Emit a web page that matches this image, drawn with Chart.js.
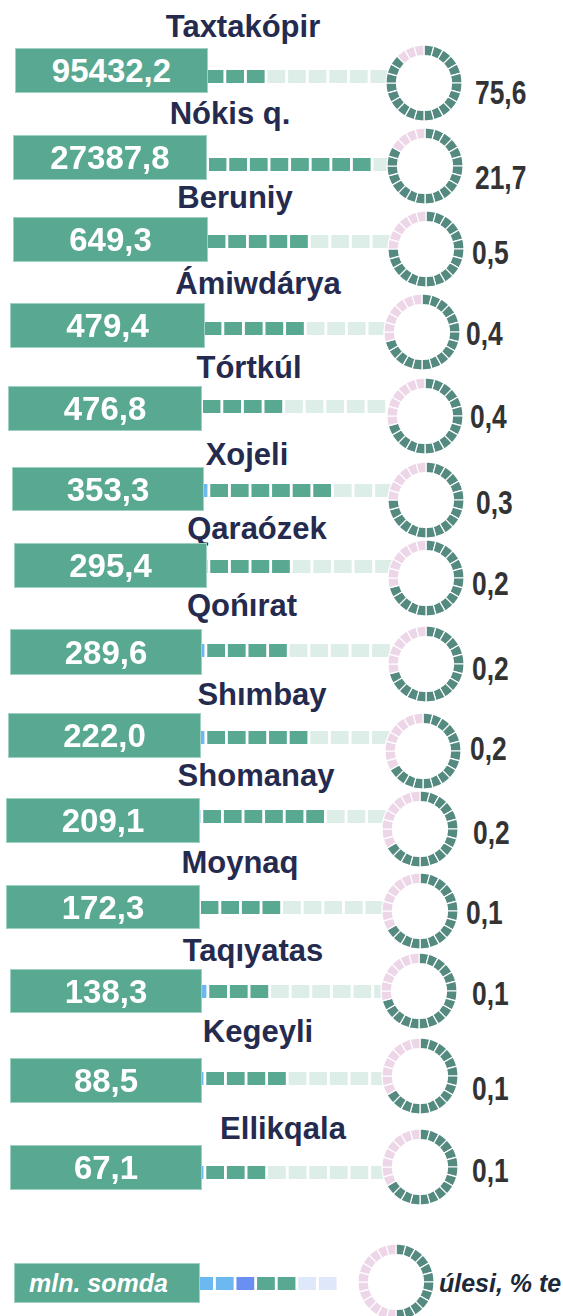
<!DOCTYPE html>
<html>
<head>
<meta charset="utf-8">
<script src="https://cdn.jsdelivr.net/npm/chart.js@4.4.0/dist/chart.umd.min.js"></script>
<style>
  body { margin: 0; background: #fff; }
  #board { position: relative; width: 563px; height: 1316px; overflow: hidden; font-family: 'Liberation Sans', Arial, sans-serif; }
  #board canvas { position: absolute; }
  .dash { z-index: 1; }
  .ring { z-index: 3; }
  .name { position: absolute; transform: translate(-50%, -50%); font-weight: bold; font-size: 31px; line-height: 1; color: #252a4f; white-space: nowrap; }
  .box { position: absolute; z-index: 2; box-sizing: border-box; background: #59a891; border: 1px solid #9fd2c2;
         display: flex; align-items: center; justify-content: center; color: #fff; font-weight: bold; font-size: 33px; line-height: 1; white-space: nowrap; }
  .pct { position: absolute; transform: translateY(-50%) scaleX(0.8); transform-origin: left center;
         font-weight: bold; font-size: 33px; line-height: 1; color: #333; white-space: nowrap; }
  .key { position: absolute; font-style: italic; font-weight: bold; font-size: 25px; line-height: 1; white-space: nowrap; }
</style>
</head>
<body>
<div id="board"></div>
<script>
// district names, volume (mln. som) and share (%)
const districts = ['Taxtakópir', 'Nókis q.', 'Beruniy', 'Ámiwdárya', 'Tórtkúl', 'Xojeli', 'Qaraózek',
                   'Qońırat', 'Shımbay', 'Shomanay', 'Moynaq', 'Taqıyatas', 'Kegeyli', 'Ellikqala'];
const volumes = [95432.2, 27387.8, 649.3, 479.4, 476.8, 353.3, 295.4, 289.6, 222.0, 209.1, 172.3, 138.3, 88.5, 67.1];
const shares = [75.6, 21.7, 0.5, 0.4, 0.4, 0.3, 0.2, 0.2, 0.2, 0.2, 0.1, 0.1, 0.1, 0.1];

// dashed connector: blue lead-in, filled dashes, empty dashes
const leadDashes = [0, 0, 0, 0, 0, 1, 1, 1, 1, 1, 0, 1, 1, 1];
const filledDashes = [3, 8, 5, 5, 4, 6, 4, 4, 5, 6, 4, 3, 4, 3];
const emptyDashes = [6, 1, 4, 4, 5, 3, 5, 5, 4, 3, 5, 6, 5, 6];

// ring of 24 segments, the last few (top-left) in pink
const ringSegments = 24;
const ringPink = [3, 4, 6, 7, 7, 6, 7, 7, 8, 8, 8, 7, 8, 8];

// placement of each row on the board
const rowLayout = [
  { nameX: 243, nameY: 26,   box: [15, 48, 208, 93],    dashX: 206, dashY: 76,   ringX: 424, ringY: 83,   pctX: 475, pctY: 92 },
  { nameX: 230, nameY: 113,  box: [13, 135, 207, 180],  dashX: 209, dashY: 164,  ringX: 425, ringY: 166,  pctX: 475, pctY: 177 },
  { nameX: 235, nameY: 197,  box: [13, 217, 208, 262],  dashX: 208, dashY: 241,  ringX: 426, ringY: 249,  pctX: 472, pctY: 252 },
  { nameX: 258, nameY: 283,  box: [10, 303, 205, 348],  dashX: 204, dashY: 328,  ringX: 422, ringY: 332,  pctX: 466, pctY: 333 },
  { nameX: 249, nameY: 367,  box: [8, 386, 202, 431],   dashX: 203, dashY: 406,  ringX: 425, ringY: 416,  pctX: 470, pctY: 416 },
  { nameX: 247, nameY: 454,  box: [12, 467, 204, 511],  dashX: 211, dashY: 490,  ringX: 426, ringY: 500,  pctX: 476, pctY: 502 },
  { nameX: 257, nameY: 528,  box: [14, 543, 207, 588],  dashX: 211, dashY: 566,  ringX: 426, ringY: 578,  pctX: 472, pctY: 583 },
  { nameX: 242, nameY: 605,  box: [10, 629, 202, 675],  dashX: 208, dashY: 650,  ringX: 426, ringY: 664,  pctX: 472, pctY: 668 },
  { nameX: 262, nameY: 694,  box: [8, 713, 201, 758],   dashX: 208, dashY: 737,  ringX: 423, ringY: 751,  pctX: 470, pctY: 748 },
  { nameX: 256, nameY: 775,  box: [6, 798, 200, 843],   dashX: 204, dashY: 816,  ringX: 420, ringY: 829,  pctX: 473, pctY: 832 },
  { nameX: 240, nameY: 862,  box: [6, 885, 200, 929],   dashX: 201, dashY: 907,  ringX: 420, ringY: 911,  pctX: 466, pctY: 912 },
  { nameX: 253, nameY: 950,  box: [10, 969, 202, 1013], dashX: 210, dashY: 991,  ringX: 419, ringY: 991,  pctX: 472, pctY: 993 },
  { nameX: 258, nameY: 1031, box: [10, 1058, 202, 1103],dashX: 207, dashY: 1078, ringX: 420, ringY: 1076, pctX: 472, pctY: 1088 },
  { nameX: 283, nameY: 1128, box: [10, 1145, 202, 1190],dashX: 207, dashY: 1172, ringX: 420, ringY: 1167, pctX: 472, pctY: 1170 }
];

const FILLED = '#59a891';
const EMPTY = '#ddeee8';
const LEAD = '#6cb8f0';
const RING = '#548a80';
const PINK = '#eed6e9';
const STEP = 20.6;      // dash pitch in px
const DASH = 0.83;      // dash length as share of the pitch

const board = document.getElementById('board');
const fmt = v => v.toFixed(1).replace('.', ',');

function addEl(cls, text, css) {
  const el = document.createElement('div');
  el.className = cls;
  el.textContent = text;
  Object.assign(el.style, css);
  board.appendChild(el);
  return el;
}

function addCanvas(cls, left, top, w, h) {
  const c = document.createElement('canvas');
  c.className = cls;
  c.width = w; c.height = h;
  Object.assign(c.style, { left: left + 'px', top: top + 'px', width: w + 'px', height: h + 'px' });
  board.appendChild(c);
  return c;
}

function drawDashes(left, y, colors) {
  const n = colors.length;
  const w = Math.round(n * STEP);
  const canvas = addCanvas('dash', left, Math.round(y - 6.5), w, 13);
  new Chart(canvas, {
    type: 'bar',
    data: {
      labels: [''],
      datasets: colors.map((c, i) => ({ data: [[i, i + DASH]], backgroundColor: c, borderWidth: 0 }))
    },
    options: {
      indexAxis: 'y',
      responsive: false,
      animation: false,
      devicePixelRatio: 1,
      layout: { padding: 0 },
      datasets: { bar: { grouped: false, barPercentage: 1, categoryPercentage: 1 } },
      scales: {
        x: { display: false, min: 0, max: w / STEP },
        y: { display: false }
      },
      plugins: { legend: { display: false }, tooltip: { enabled: false } }
    }
  });
}

function drawRing(cx, cy, colors) {
  const canvas = addCanvas('ring', cx - 40, cy - 40, 80, 80);
  new Chart(canvas, {
    type: 'doughnut',
    data: {
      labels: colors.map((_, i) => i),
      datasets: [{ data: colors.map(() => 1), backgroundColor: colors, borderColor: '#fff', borderWidth: 1.2 }]
    },
    options: {
      responsive: false,
      animation: false,
      devicePixelRatio: 1,
      radius: 38,
      cutout: 28.5,
      layout: { padding: 0 },
      plugins: { legend: { display: false }, tooltip: { enabled: false } }
    }
  });
}

districts.forEach((name, i) => {
  const L = rowLayout[i];
  addEl('name', name, { left: L.nameX + 'px', top: L.nameY + 'px' });
  addEl('box', fmt(volumes[i]), {
    left: L.box[0] + 'px', top: L.box[1] + 'px',
    width: (L.box[2] - L.box[0]) + 'px', height: (L.box[3] - L.box[1]) + 'px'
  });

  const colors = [];
  for (let k = 0; k < leadDashes[i]; k++) colors.push(LEAD);
  for (let k = 0; k < filledDashes[i]; k++) colors.push(FILLED);
  for (let k = 0; k < emptyDashes[i]; k++) colors.push(EMPTY);
  drawDashes(L.dashX - leadDashes[i] * STEP, L.dashY, colors);

  const seg = [];
  for (let k = 0; k < ringSegments; k++) seg.push(k < ringSegments - ringPink[i] ? RING : PINK);
  drawRing(L.ringX, L.ringY, seg);

  addEl('pct', fmt(shares[i]), { left: L.pctX + 'px', top: L.pctY + 'px' });
});

// key at the bottom
const key = addEl('box', '', { left: '14px', top: '1263px', width: '186px', height: '40px' });
key.style.justifyContent = 'flex-start';
const keyText = document.createElement('span');
keyText.className = 'key';
keyText.textContent = 'mln. somda';
Object.assign(keyText.style, { position: 'static', color: '#fff', paddingLeft: '14px' });
key.appendChild(keyText);

drawDashes(196 - STEP, 1283, ['#8fcbf3', LEAD, LEAD, '#6a8ff2', FILLED, FILLED, '#dfe8fb', '#dfe8fb']);
drawRing(396, 1282, Array.from({ length: ringSegments }, (_, k) => (k < ringSegments / 2 ? RING : PINK)));
addEl('key', 'úlesi, % te', { left: '439px', top: '1271px', color: '#1d2838' });
</script>
</body>
</html>
